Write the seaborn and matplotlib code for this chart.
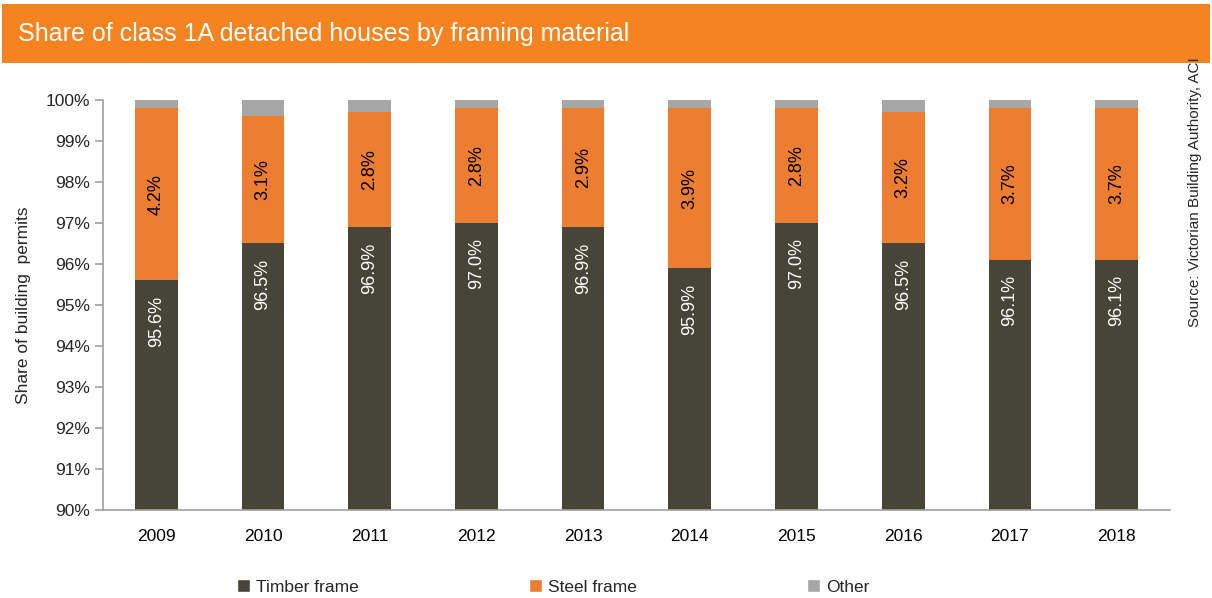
import matplotlib
matplotlib.use("Agg")
import matplotlib.pyplot as plt
import seaborn as sns
import numpy as np
from matplotlib.patches import Rectangle, Patch
from matplotlib import font_manager

years = ["2009", "2010", "2011", "2012", "2013", "2014", "2015", "2016", "2017", "2018"]
timber = [95.6, 96.5, 96.9, 97.0, 96.9, 95.9, 97.0, 96.5, 96.1, 96.1]
steel = [4.2, 3.1, 2.8, 2.8, 2.9, 3.9, 2.8, 3.2, 3.7, 3.7]
other = [0.2, 0.4, 0.3, 0.2, 0.2, 0.2, 0.2, 0.3, 0.2, 0.2]
yticks = [90, 91, 92, 93, 94, 95, 96, 97, 98, 99, 100]

sns.set_theme(style="white")
names = {f.name for f in font_manager.fontManager.ttflist}
fam = "Liberation Sans Narrow" if "Liberation Sans Narrow" in names else "Liberation Sans"
plt.rcParams["font.family"] = [fam, "DejaVu Sans"]

C_TIMBER = "#464538"
C_STEEL = "#ED7D31"
C_OTHER = "#A6A6A6"
C_BAND = "#F5831F"

fig = plt.figure(figsize=(12.12, 5.98), dpi=100)
ax = fig.add_axes([0.085, 0.1472, 0.8803, 0.6856])

t = np.array(timber)
s = np.array(steel)
o = np.array(other)
top = t + s + o
mid = t + s

sns.barplot(x=years, y=top, color=C_OTHER, width=0.4, ax=ax, saturation=1, linewidth=0)
sns.barplot(x=years, y=mid, color=C_STEEL, width=0.4, ax=ax, saturation=1, linewidth=0)
sns.barplot(x=years, y=t, color=C_TIMBER, width=0.4, ax=ax, saturation=1, linewidth=0)

ax.set_ylim(90, 100)
ax.set_xlim(-0.5, len(years) - 0.5)
ax.set_yticks(yticks)
ax.set_yticklabels([f"{v}%" for v in yticks])

for i in range(len(years)):
    ax.text(i, t[i] - 1.0, f"{timber[i]:.1f}%", rotation=90, ha="center", va="center",
            color="white", fontsize=13)
    ax.text(i, t[i] + s[i] / 2, f"{steel[i]:.1f}%", rotation=90, ha="center", va="center",
            color="black", fontsize=13)

for sp in ["top", "right"]:
    ax.spines[sp].set_visible(False)
for sp in ["left", "bottom"]:
    ax.spines[sp].set_color("#A0A0A0")
    ax.spines[sp].set_linewidth(1.2)

ax.set_xticks(np.arange(-0.5, len(years), 1.0), minor=True)
ax.tick_params(axis="x", which="major", length=0, labelsize=12.5, pad=14, colors="black")
ax.tick_params(axis="x", which="minor", length=6, color="#A0A0A0", width=1.2, direction="out")
ax.tick_params(axis="y", which="major", length=6, color="#A0A0A0", width=1.2, direction="out",
               labelsize=12.5, left=True)
ax.set_xlabel("")
ax.set_ylabel("Share of building  permits", fontsize=12.5, labelpad=10)

# title band
fig.patches.append(Rectangle((2 / 1212, 1 - 63 / 598), 1208 / 1212, 59 / 598,
                             transform=fig.transFigure, facecolor=C_BAND, edgecolor="none"))
fig.text(18 / 1212, 1 - 34 / 598, "Share of class 1A detached houses by framing material",
         color="white", fontsize=18, va="center", ha="left")

fig.text(1195 / 1212, 1 - 192 / 598, "Source: Victorian Building Authority, ACI", rotation=90,
         ha="center", va="center", fontsize=11)

handles = [Patch(facecolor=C_TIMBER), Patch(facecolor=C_STEEL), Patch(facecolor=C_OTHER)]
fig.legend(handles, ["Timber frame", "Steel frame", "Other"], loc="center",
           bbox_to_anchor=(553 / 1212, 1 - 587 / 598), ncol=3, frameon=False,
           fontsize=12.5, handlelength=0.75, handleheight=0.75, handletextpad=0.35,
           columnspacing=9.8)

fig.savefig("out.png", dpi=100)
